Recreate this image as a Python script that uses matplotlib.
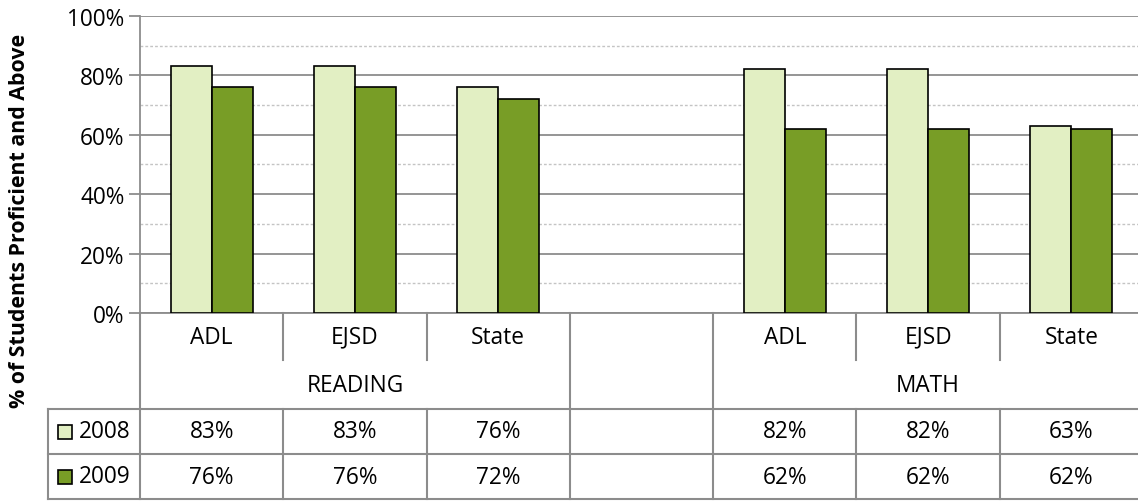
import numpy as np
import matplotlib.pyplot as plt
from matplotlib.transforms import blended_transform_factory
from matplotlib.patches import Rectangle

plt.rcParams['font.family'] = ['Open Sans', 'DejaVu Sans']

# data
categories = ["ADL", "EJSD", "State", "", "ADL", "EJSD", "State"]
groups = [("READING", 0, 2), ("", 3, 3), ("MATH", 4, 6)]
years = ["2008", "2009"]
vals_2008 = [83, 83, 76, np.nan, 82, 82, 63]
vals_2009 = [76, 76, 72, np.nan, 62, 62, 62]
colors = ["#E2EFC3", "#789D26"]

W, H = 1138, 502
fs = 16.3
fig = plt.figure(figsize=(W / 100, H / 100), dpi=100)

# plot area in pixels
left, right, top, bottom = 140, 1143, 17, 314
ax = fig.add_axes([left / W, 1 - bottom / H, (right - left) / W, (bottom - top) / H])

x = np.arange(len(categories))
bw = 0.287
for i, (yr, vals) in enumerate(zip(years, [vals_2008, vals_2009])):
    ax.bar(x + (i - 0.5) * bw, np.array(vals) / 100, bw, color=colors[i],
           edgecolor="black", linewidth=1.2, zorder=3)

ax.set_xlim(-0.5, len(categories) - 0.5)
ax.set_ylim(0, 1)
ax.set_yticks(np.arange(0, 1.01, 0.2))
ax.set_yticklabels([f"{int(round(v*100))}%" for v in np.arange(0, 1.01, 0.2)], fontsize=fs)
ax.set_yticks(np.arange(0.1, 1.0, 0.2), minor=True)
ax.yaxis.grid(True, which="major", color="#8c8c8c", linewidth=1.3, zorder=0)
ax.yaxis.grid(True, which="minor", color="#c4c4c4", linewidth=1.0, linestyle=(0, (2, 1.5)), zorder=0)
ax.tick_params(axis="y", which="major", length=8, width=1.3, color="#8c8c8c", pad=3)
ax.tick_params(axis="y", which="minor", length=0)
ax.set_xticks([])
for s in ["top", "right"]:
    ax.spines[s].set_visible(False)
for s in ["left", "bottom"]:
    ax.spines[s].set_color("#8c8c8c")
    ax.spines[s].set_linewidth(1.3)

# data table below the axis (x in data units, y in pixels -> axes fraction)
tr = blended_transform_factory(ax.transData, ax.transAxes)
def fy(p):
    return (bottom - p) / (bottom - top)

lc = "#8c8c8c"
lw = 1.5
def hline(x0, x1, p):
    ax.plot([x0, x1], [fy(p), fy(p)], transform=tr, color=lc, lw=lw, clip_on=False)
def vline(xx, p0, p1):
    ax.plot([xx, xx], [fy(p0), fy(p1)], transform=tr, color=lc, lw=lw, clip_on=False)

r_cat, r_grp, r_y1, r_y2 = 361, 410, 455, 500
leg_x = -0.5 - (left - 48) / ((right - left) / len(categories))
xmax = len(categories) - 0.5

vline(-0.5, bottom, r_y2)
for g, a, b in groups:
    vline(b + 0.5, bottom, r_y2)
    for k in range(a, b):
        vline(k + 0.5, bottom, r_cat)
        vline(k + 0.5, r_grp, r_y2)
    ax.text((a + b) / 2, fy((r_cat + r_grp) / 2), g, transform=tr, ha="center", va="center", fontsize=fs)
for p in [r_grp, r_y1, r_y2]:
    hline(leg_x, xmax, p)
vline(leg_x, r_grp, r_y2)

for k, c in enumerate(categories):
    ax.text(k, fy((bottom + r_cat) / 2), c, transform=tr, ha="center", va="center", fontsize=fs)

rows = [(r_grp, r_y1), (r_y1, r_y2)]
for i, (yr, vals) in enumerate(zip(years, [vals_2008, vals_2009])):
    p0, p1 = rows[i]
    yc = fy((p0 + p1) / 2)
    for k, v in enumerate(vals):
        if not np.isnan(v):
            ax.text(k, yc, f"{int(v)}%", transform=tr, ha="center", va="center", fontsize=fs)
    # legend key
    fig.patches.append(Rectangle((58 / W, 1 - ((p0 + p1) / 2 + 7) / H), 14 / W, 14 / H,
                                 transform=fig.transFigure, facecolor=colors[i],
                                 edgecolor="black", linewidth=1.2))
    fig.text(79 / W, 1 - (p0 + p1) / 2 / H, yr, ha="left", va="center", fontsize=fs)

fig.text(20 / W, 1 - 221 / H, "% of Students Proficient and Above", rotation=90,
         ha="center", va="center", fontsize=15.4, fontweight="bold")

fig.savefig("out.png", dpi=100)
